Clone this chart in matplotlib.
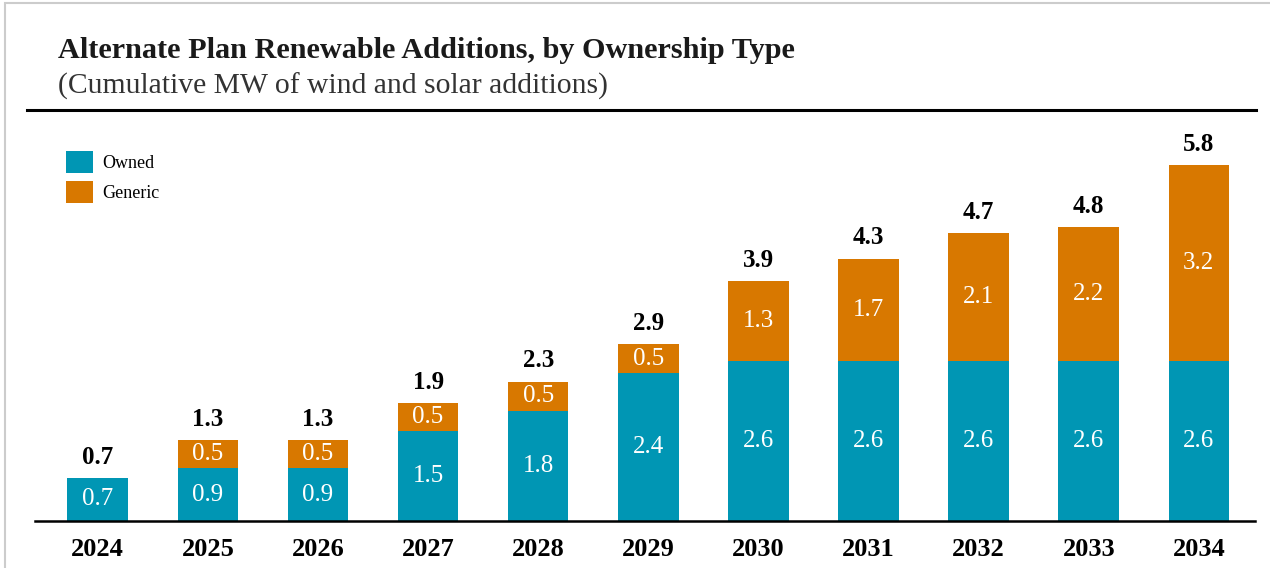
import matplotlib.pyplot as plt
from matplotlib.patches import Rectangle
from matplotlib.lines import Line2D

plt.rcParams['font.family'] = ['Liberation Serif', 'DejaVu Serif']

years = ['2024', '2025', '2026', '2027', '2028', '2029', '2030', '2031', '2032', '2033', '2034']
owned = [0.70, 0.86, 0.86, 1.46, 1.79, 2.41, 2.60, 2.60, 2.60, 2.60, 2.60]
generic = [0.00, 0.46, 0.46, 0.46, 0.48, 0.47, 1.30, 1.67, 2.09, 2.19, 3.19]

teal = '#0096b4'
orange = '#d87800'

fig = plt.figure(figsize=(12.7, 5.68), dpi=100)
W, H = 1270, 568

# axes placed in pixel terms: left 35, right 1255, bottom 521, top 110
ax = fig.add_axes([35 / W, 1 - 521 / H, (1255 - 35) / W, (521 - 110) / H])

x = list(range(len(years)))
bw = 0.55
ax.bar(x, owned, width=bw, color=teal, label='Owned')
ax.bar(x, generic, width=bw, bottom=owned, color=orange, label='Generic')

ax.set_xlim(-0.57, 10.51)
ax.set_ylim(0, 6.69)

for i in x:
    o, g = owned[i], generic[i]
    ax.text(i, o / 2, f'{o:.1f}', ha='center', va='center', color='white', fontsize=18)
    if g > 0:
        ax.text(i, o + g / 2, f'{g:.1f}', ha='center', va='center', color='white', fontsize=18)
    ax.text(i, o + g + 0.15, f'{o + g:.1f}', ha='center', va='bottom',
            fontsize=18, fontweight='bold')

ax.set_xticks(x)
ax.set_xticklabels(years, fontsize=19, fontweight='bold')
ax.tick_params(axis='x', length=0, pad=12)
ax.set_yticks([])
for s in ['top', 'right', 'left']:
    ax.spines[s].set_visible(False)
ax.spines['bottom'].set_linewidth(1.8)

leg = ax.legend(loc='upper left', bbox_to_anchor=(0.012, 0.94), frameon=False,
                fontsize=13, handlelength=1.5, handleheight=1.5, labelspacing=0.45,
                handletextpad=0.5)

# title block
fig.text(58 / W, 1 - 58 / H, 'Alternate Plan Renewable Additions, by Ownership Type',
         fontsize=21.8, fontweight='bold', color='#1a1a1a')
fig.text(58 / W, 1 - 94 / H, '(Cumulative MW of wind and solar additions)',
         fontsize=21.3, color='#333333')
fig.add_artist(Line2D([27 / W, 1256 / W], [1 - 110 / H, 1 - 110 / H], color='black', lw=2.2))

# light frame around the chart
fig.add_artist(Rectangle((5 / W, -0.05), 1.2, 1 - 3 / H + 0.05, fill=False,
                         edgecolor='#cccccc', lw=1.5))

fig.savefig('out.png', dpi=100)
